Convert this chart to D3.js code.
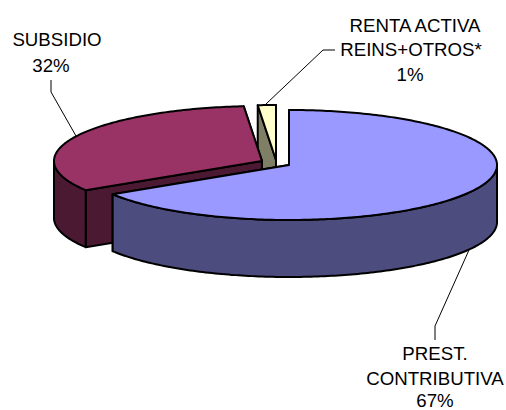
<!DOCTYPE html>
<html><head><meta charset="utf-8">
<style>html,body{margin:0;padding:0;background:#fff}svg{display:block}</style>
<script src="https://cdn.jsdelivr.net/npm/d3@7"></script>
</head><body><svg id="c" width="506" height="410"></svg>
<script>
const categories = ["PREST. CONTRIBUTIVA", "SUBSIDIO", "RENTA ACTIVA REINS+OTROS*"];
const sliceValues = [66.1, 32.5, 1.4];
const percentLabels = ["67%", "32%", "1%"];
const topColors = ["#9999ff", "#993366", "#ffffcc"];
const sideColors = ["#4c4c7f", "#4c1933", "#7f7f66"];

const svg = d3.select("#c");
const RX = 208, RY = 55, DEPTH = 57;
const centers = [[289,165],[262,161],[276,160]];
const sx = d3.scaleLinear().domain([-1,1]).range([-RX,RX]);
const sy = d3.scaleLinear().domain([-1,1]).range([-RY,RY]);
const arcs = d3.pie().sort(null).value(d=>d)(sliceValues);

function pt(i,a,dz=0){
  return [centers[i][0]+sx(Math.sin(a)), centers[i][1]-sy(Math.cos(a))+dz];
}
function sample(i,a0,a1,dz=0){
  const n = Math.max(2,Math.ceil(Math.abs(a1-a0)*60)), out=[];
  for(let k=0;k<=n;k++) out.push(pt(i,a0+(a1-a0)*k/n,dz));
  return out;
}
const line = d3.line();
const g = svg.append("g").attr("stroke","#000").attr("stroke-width",2).attr("stroke-linejoin","round");
function face(points,fill){ g.append("path").attr("d",line(points)+"Z").attr("fill",fill); }

// paint back to front: small slice, subsidy, then the large slice
[2,1,0].forEach(i=>{
  const a=arcs[i], c=centers[i];
  const c2=[c[0],c[1]+DEPTH];
  // radial cut faces: rear-facing end face first, visible start face over it
  [a.endAngle,a.startAngle].forEach(t=>{
    face([c,pt(i,t),pt(i,t,DEPTH),c2],sideColors[i]);
  });
  // outer wall on the front half of the ellipse
  const w0=Math.max(a.startAngle,Math.PI/2), w1=Math.min(a.endAngle,3*Math.PI/2);
  if(w1>w0){
    face(sample(i,w0,w1).concat(sample(i,w1,w0,DEPTH)),sideColors[i]);
  }
  // top
  face([c].concat(sample(i,a.startAngle,a.endAngle)),topColors[i]);
});

// leader lines
const leaders=[
  [[469,250],[435,326],[435,340]],
  [[76,136],[51,92],[51,80]],
  [[266,104],[323,50],[335,50]]
];
leaders.forEach(l=>svg.append("path").attr("d",line(l)).attr("fill","none").attr("stroke","#000").attr("stroke-width",1));

// labels
const labelLines=[
  {x:[435,435,435],y:[360,385,407],t:["PREST.","CONTRIBUTIVA",percentLabels[0]]},
  {x:[57,51],y:[46,72],t:[categories[1],percentLabels[1]]},
  {x:[415,411,410],y:[32,56,81],t:["RENTA ACTIVA","REINS+OTROS*",percentLabels[2]]}
];
labelLines.forEach(L=>L.t.forEach((s,k)=>{
  svg.append("text").attr("x",L.x[k]).attr("y",L.y[k]).attr("text-anchor","middle")
    .attr("font-family","'Liberation Sans',Arial,sans-serif").attr("font-size",18.67).attr("fill","#000").text(s);
}));
</script></body></html>
